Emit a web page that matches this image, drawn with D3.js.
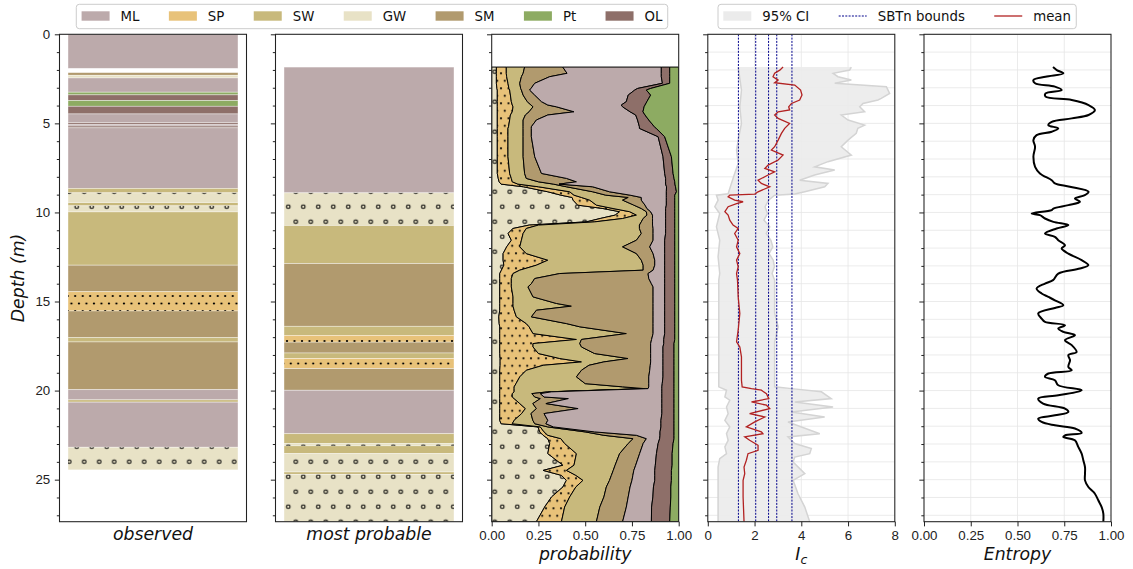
<!DOCTYPE html>
<html>
<head>
<meta charset="utf-8">
<script src="https://cdn.jsdelivr.net/npm/d3@7"></script>
<style>
  body { margin: 0; background: #fff; }
  svg { font-family: "DejaVu Sans", sans-serif; }
</style>
</head>
<body>
<svg id="chart" width="1133" height="569"></svg>
<script>
// soil classes and their colours
const classNames = ['ML', 'SP', 'SW', 'GW', 'SM', 'Pt', 'OL'];
const classColors = ['#bcaaab', '#e8c279', '#c8b97c', '#e8e2c6', '#b19a6e', '#8dab62', '#8e6f69'];

// observed log (depth in m)
const obsTop = [0, 2.15, 2.30, 2.45, 3.25, 3.40, 3.72, 4.04, 4.47, 4.96, 5.05, 5.15, 5.25, 8.65, 8.90, 9.45, 9.63, 9.97, 12.96, 14.45, 15.53, 17.03, 17.27, 19.95, 20.52, 20.65, 23.18];
const obsBottom = [1.91, 2.30, 2.45, 3.25, 3.40, 3.72, 4.04, 4.47, 4.96, 5.05, 5.15, 5.25, 8.65, 8.90, 9.45, 9.63, 9.97, 12.96, 14.45, 15.53, 17.03, 17.27, 19.95, 20.52, 20.65, 23.18, 24.45];
const obsClass = ['ML', 'SM', 'GW', 'ML', 'Pt', 'OL', 'Pt', 'OL', 'ML', 'OL', 'ML', 'OL', 'ML', 'SW', 'GW', 'SW', 'GW', 'SW', 'SM', 'SP', 'SM', 'SW', 'SM', 'ML', 'SW', 'ML', 'GW'];

// most probable log
const mpTop = [1.84, 8.90, 10.73, 12.87, 16.39, 16.90, 17.28, 17.89, 18.20, 18.77, 19.98, 22.42, 22.98, 23.10, 23.54, 24.57, 24.70];
const mpBottom = [8.90, 10.73, 12.87, 16.39, 16.90, 17.28, 17.89, 18.20, 18.77, 19.98, 22.42, 22.98, 23.10, 23.54, 24.57, 24.70, 27.36];
const mpClass = ['ML', 'GW', 'SW', 'SM', 'SW', 'SP', 'SM', 'SW', 'SP', 'SM', 'ML', 'SW', 'GW', 'SW', 'GW', 'SW', 'GW'];

// class probabilities, stacked GW | SP | SW | SM | ML | OL | Pt (right edge of each band)
const probDepth = [1.84, 2.19, 2.38, 2.75, 3.04, 3.13, 3.41, 3.78, 3.97, 4.07,
  4.35, 4.53, 4.81, 5.19, 5.28, 5.75, 6.87, 7.81, 8.09, 8.28,
  8.41, 8.56, 8.84, 9.03, 9.16, 9.31, 9.59, 9.78, 9.96, 10.15,
  10.34, 10.53, 10.71, 10.90, 11.18, 11.56, 11.93, 12.31, 12.68, 12.96,
  13.24, 13.43, 13.71, 14.00, 14.18, 14.74, 15.11, 15.26, 15.49, 15.86,
  16.24, 16.42, 16.80, 17.13, 17.36, 17.55, 17.92, 18.20, 18.39, 18.58,
  18.86, 19.23, 19.61, 19.79, 19.89, 20.07, 20.17, 20.36, 20.45, 20.73,
  21.01, 21.29, 21.67, 21.86, 22.04, 22.32, 22.51, 22.70, 22.97, 23.54,
  24.19, 24.48, 24.76, 25.04, 25.41, 25.97, 26.54, 27.36];
const edgeGW = [.025, .025, .025, .025, .028, .030, .030, .030, .030, .030,
  .030, .030, .030, .030, .030, .030, .030, .030, .035, .040,
  .050, .170, .300, .370, .430, .435, .460, .595, .684, .660,
  .580, .506, .200, .114, .087, .105, .080, .061, .061, .065,
  .052, .043, .043, .043, .043, .043, .043, .043, .043, .038,
  .040, .043, .043, .043, .043, .043, .043, .045, .045, .045,
  .043, .043, .043, .043, .043, .043, .043, .043, .043, .043,
  .043, .043, .043, .050, .248, .257, .275, .300, .310, .300,
  .381, .275, .373, .399, .381, .320, .283, .239];
const edgeSP = [.078, .078, .080, .087, .092, .096, .100, .105, .110, .114,
  .110, .100, .096, .090, .087, .087, .087, .096, .105, .110,
  .140, .250, .417, .440, .480, .524, .560, .649, .738, .774,
  .700, .550, .250, .185, .168, .159, .150, .185, .300, .239,
  .150, .114, .105, .105, .105, .114, .114, .114, .120, .132,
  .185, .200, .221, .453, .221, .221, .250, .364, .480, .275,
  .185, .150, .130, .120, .120, .120, .110, .110, .120, .150,
  .180, .160, .120, .110, .260, .280, .300, .370, .390, .453,
  .440, .400, .450, .488, .450, .417, .390, .373];
const edgeSW = [.176, .168, .159, .150, .155, .159, .168, .190, .210, .221,
  .200, .180, .168, .168, .168, .168, .168, .176, .185, .250,
  .330, .400, .540, .610, .730, .700, .760, .800, .827, .830,
  .810, .800, .790, .790, .800, .774, .700, .774, .800, .810,
  .810, .364, .230, .212, .194, .221, .346, .426, .239, .212,
  .400, .471, .720, .480, .471, .480, .550, .729, .600, .520,
  .480, .453, .500, .700, .818, .300, .215, .230, .260, .220,
  .239, .210, .220, .230, .300, .500, .600, .756, .730, .684,
  .660, .650, .640, .630, .613, .600, .578, .560];
const edgeSM = [.380, .403, .310, .230, .210, .203, .230, .266, .300, .346,
  .440, .300, .239, .212, .212, .212, .230, .266, .400, .453,
  .360, .540, .630, .740, .800, .800, .820, .830, .850, .860,
  .860, .860, .860, .863, .863, .863, .845, .863, .872, .872,
  .863, .836, .840, .854, .863, .863, .863, .863, .863, .863,
  .863, .863, .863, .855, .850, .850, .850, .850, .850, .848,
  .845, .840, .840, .840, .836, .320, .260, .280, .410, .290,
  .462, .280, .300, .290, .330, .550, .774, .827, .810, .791,
  .770, .760, .755, .750, .740, .730, .720, .700];
const edgeML = [.907, .907, .907, .913, .780, .765, .730, .720, .693, .700,
  .740, .770, .780, .790, .790, .890, .916, .925, .930, .930,
  .930, .935, .934, .934, .934, .934, .934, .930, .930, .930,
  .930, .930, .930, .930, .930, .925, .925, .925, .925, .925,
  .925, .925, .925, .925, .925, .925, .925, .925, .925, .925,
  .925, .925, .925, .920, .920, .916, .916, .916, .916, .916,
  .916, .916, .912, .910, .910, .910, .910, .910, .910, .910,
  .910, .910, .905, .905, .905, .900, .900, .898, .890, .881,
  .875, .872, .872, .872, .865, .862, .855, .854];
const edgeOL = [.952, .952, .952, .952, .850, .827, .850, .830, .820, .815,
  .809, .820, .840, .870, .880, .925, .961, .970, .975, .979,
  .980, .983, .988, .979, .979, .979, .979, .979, .979, .979,
  .979, .979, .979, .979, .979, .979, .979, .979, .979, .979,
  .979, .979, .979, .979, .979, .979, .979, .979, .979, .979,
  .979, .979, .979, .979, .975, .975, .975, .975, .975, .975,
  .975, .975, .975, .975, .975, .975, .975, .975, .975, .975,
  .975, .975, .975, .975, .975, .975, .975, .975, .970, .965,
  .965, .961, .961, .961, .958, .958, .955, .952];

// soil behaviour type index Ic
const icDepth = [1.84, 2.01, 2.19, 2.38, 2.57, 2.72, 2.85, 3.13, 3.41, 3.69, 3.88, 4.07, 4.25, 4.35, 4.53, 4.72, 5.00, 5.28, 5.56, 5.94,
  6.31, 6.50, 6.78, 7.06, 7.34, 7.53, 7.72, 7.90, 8.19, 8.37, 8.56, 8.84, 8.97, 9.03, 9.12, 9.31, 9.40, 9.50, 9.68, 9.96,
  10.15, 10.43, 10.71, 10.90, 11.18, 11.56, 11.93, 12.31, 12.68, 13.05, 13.43, 13.80, 14.74, 15.67, 16.61, 17.26, 17.55, 18.11, 19.42, 19.79,
  19.89, 19.98, 20.17, 20.45, 20.64, 20.82, 21.01, 21.29, 21.48, 21.76, 22.04, 22.32, 22.42, 22.60, 22.79, 23.07, 23.35, 23.54, 23.91, 24.29,
  24.66, 25.04, 25.97, 27.36];
const icMean = [3.22, 3.08, 2.86, 2.79, 3.01, 2.86, 3.72, 3.97, 4.03, 3.93, 3.58, 3.46, 3.50, 3.01, 2.86, 3.01, 3.50, 3.29, 3.15, 3.01,
  2.86, 2.72, 3.22, 3.01, 2.58, 2.44, 2.86, 2.58, 2.15, 2.29, 2.65, 2.15, 2.01, 0.94, 0.87, 1.15, 1.51, 1.23, 0.87, 0.73,
  0.87, 0.94, 1.08, 1.30, 1.15, 1.30, 1.23, 1.37, 1.23, 1.30, 1.23, 1.27, 1.30, 1.37, 1.30, 1.23, 1.37, 1.44, 1.44, 1.47,
  1.87, 2.29, 2.51, 2.61, 1.87, 2.51, 2.65, 1.79, 2.44, 2.01, 1.65, 2.29, 2.36, 1.58, 1.79, 2.15, 2.15, 1.72, 1.65, 1.55,
  1.58, 1.51, 1.51, 1.55];
const ciLowDepth = [1.84, 3.13, 4.07, 5.00, 5.94, 6.50, 7.25, 7.81, 8.37, 8.95, 9.03, 9.31, 9.68, 10.06, 10.81, 11.56, 12.49, 13.43, 13.80, 19.79,
  19.98, 20.36, 20.54, 20.92, 21.29, 21.67, 22.04, 22.42, 22.79, 23.16, 23.54, 23.82, 24.29, 27.36];
const ciLow = [1.30, 1.44, 1.37, 1.44, 1.30, 1.23, 1.30, 1.15, 1.01, 0.87, 0.37, 0.44, 0.30, 0.51, 0.37, 0.51, 0.44, 0.51, 0.47, 0.47,
  0.80, 0.73, 0.94, 0.80, 0.87, 0.73, 0.94, 0.80, 0.87, 0.73, 0.80, 0.51, 0.44, 0.44];
const ciHighDepth = [1.84, 2.01, 2.19, 2.38, 2.57, 2.75, 2.94, 3.13, 3.32, 3.60, 3.69, 3.88, 4.07, 4.35, 4.53, 4.81, 5.10, 5.28, 5.56, 5.94,
  6.31, 6.78, 7.15, 7.44, 7.62, 7.90, 8.19, 8.37, 8.56, 8.84, 8.97, 9.03, 9.31, 9.68, 10.06, 10.43, 10.81, 11.18, 11.56, 11.93,
  12.31, 12.68, 13.05, 13.43, 13.80, 15.67, 16.42, 17.26, 19.79, 19.89, 20.07, 20.45, 20.64, 20.92, 21.20, 21.48, 21.76, 22.42, 22.60, 22.97,
  23.25, 23.54, 23.73, 24.01, 24.66, 25.04, 25.79, 26.54, 27.36];
const ciHigh = [6.14, 6.07, 5.36, 5.57, 6.14, 5.43, 7.64, 7.71, 7.78, 7.42, 7.28, 6.64, 6.50, 6.71, 5.71, 6.00, 6.71, 6.42, 6.35, 6.00,
  5.71, 6.14, 5.14, 4.57, 5.43, 4.57, 3.93, 5.14, 5.00, 4.15, 3.72, 2.86, 2.60, 2.45, 2.55, 2.40, 2.65, 2.50, 2.70, 2.78,
  2.62, 2.80, 2.85, 2.75, 2.86, 2.86, 3.01, 2.86, 2.86, 3.58, 4.86, 5.28, 3.72, 5.36, 3.58, 5.00, 3.43, 4.79, 3.43, 3.72,
  4.43, 4.36, 3.72, 3.65, 4.15, 3.65, 3.86, 4.15, 4.36];
const sbtBounds = [1.31, 2.05, 2.60, 2.95, 3.60];

// entropy of the class probabilities
const entDepth = [1.84, 2.01, 2.19, 2.38, 2.57, 2.75, 2.94, 3.13, 3.32, 3.50, 3.69, 3.97, 4.25, 4.53, 4.72, 4.91, 5.10, 5.28, 5.47, 5.66,
  5.94, 6.31, 6.87, 7.44, 7.81, 8.19, 8.37, 8.56, 8.84, 9.03, 9.22, 9.40, 9.59, 9.78, 9.87, 10.06, 10.15, 10.34, 10.53, 10.71,
  10.90, 11.18, 11.37, 11.56, 11.84, 12.02, 12.31, 12.68, 12.96, 13.15, 13.43, 13.80, 13.99, 14.27, 14.55, 14.74, 14.93, 15.21, 15.36, 15.67,
  15.96, 16.14, 16.33, 16.52, 16.70, 16.89, 17.17, 17.45, 17.83, 18.01, 18.29, 18.67, 18.86, 19.04, 19.23, 19.42, 19.70, 19.98, 20.26, 20.45,
  20.73, 21.01, 21.20, 21.39, 21.57, 21.76, 21.95, 22.13, 22.38, 22.51, 22.60, 22.79, 23.16, 23.54, 23.91, 24.29, 24.66, 25.04, 25.41, 25.79,
  26.16, 26.54, 26.91, 27.36];
const entropy = [0.69, 0.71, 0.745, 0.65, 0.585, 0.594, 0.70, 0.736, 0.65, 0.65, 0.79, 0.88, 0.914, 0.88, 0.79, 0.683, 0.665, 0.718, 0.683, 0.602,
  0.585, 0.594, 0.585, 0.594, 0.62, 0.683, 0.70, 0.78, 0.88, 0.86, 0.807, 0.834, 0.772, 0.692, 0.683, 0.576, 0.62, 0.647, 0.692, 0.772,
  0.709, 0.647, 0.70, 0.718, 0.754, 0.736, 0.772, 0.843, 0.879, 0.834, 0.718, 0.69, 0.647, 0.602, 0.629, 0.665, 0.70, 0.745, 0.70, 0.611,
  0.629, 0.647, 0.754, 0.718, 0.745, 0.807, 0.754, 0.79, 0.816, 0.772, 0.781, 0.772, 0.79, 0.665, 0.647, 0.70, 0.718, 0.843, 0.718, 0.611,
  0.637, 0.754, 0.772, 0.70, 0.611, 0.629, 0.70, 0.807, 0.843, 0.754, 0.745, 0.807, 0.825, 0.843, 0.852, 0.861, 0.861, 0.861, 0.879, 0.914,
  0.932, 0.95, 0.959, 0.959];

// ---------------------------------------------------------------- layout
const svg = d3.select('#chart');
const defs = svg.append('defs');
const color = d3.scaleOrdinal().domain(classNames).range(classColors);

const plotTop = 34.3, plotBottom = 521.7, panelW = 187;
const lefts = [59.5, 275.5, 491.7, 707.8, 924];
const y = d3.scaleLinear().domain([0, 27.36]).range([plotTop, plotBottom]);

const xObs = d3.scaleLinear().domain([-0.05, 1.05]).range([lefts[0], lefts[0] + panelW]);
const xMp = d3.scaleLinear().domain([-0.05, 1.05]).range([lefts[1], lefts[1] + panelW]);
const xProb = d3.scaleLinear().domain([0, 1]).range([lefts[2], lefts[2] + panelW]);
const xIc = d3.scaleLinear().domain([0, 8]).range([lefts[3], lefts[3] + panelW]);
const xEnt = d3.scaleLinear().domain([0, 1]).range([lefts[4], lefts[4] + panelW]);

// hatch patterns: 'o' for GW, '.' for SP (matplotlib style)
function circlePattern(id, ox, oy) {
  const p = defs.append('pattern').attr('id', id).attr('patternUnits', 'userSpaceOnUse')
    .attr('x', ox).attr('y', oy).attr('width', 15).attr('height', 30);
  [[0, 0], [15, 0], [0, 30], [15, 30], [7.5, 15]].forEach(([cx, cy]) =>
    p.append('circle').attr('cx', cx).attr('cy', cy).attr('r', 1.8)
      .attr('fill', 'none').attr('stroke', '#000').attr('stroke-width', 1.1));
}
function dotPattern(id, ox, oy) {
  const p = defs.append('pattern').attr('id', id).attr('patternUnits', 'userSpaceOnUse')
    .attr('x', ox).attr('y', oy).attr('width', 7.5).attr('height', 15);
  [[0, 0], [7.5, 0], [0, 15], [7.5, 15], [3.75, 7.5]].forEach(([cx, cy]) =>
    p.append('circle').attr('cx', cx).attr('cy', cy).attr('r', 1.1).attr('fill', '#000'));
}
circlePattern('circ0', 1.7, 26.7); dotPattern('dot0', 0.2, 11);
circlePattern('circ1', 3.3, 26.7); dotPattern('dot1', 2, 11);
circlePattern('circ2', 7.3, 26.7); dotPattern('dot2', 6, 13.3);
const hatchOf = (cls, i) => cls === 'GW' ? `url(#circ${i})` : cls === 'SP' ? `url(#dot${i})` : null;

lefts.forEach((l, i) => {
  defs.append('clipPath').attr('id', 'clip' + i)
    .append('rect').attr('x', l).attr('y', plotTop).attr('width', panelW).attr('height', plotBottom - plotTop);
});

const panels = lefts.map((l, i) => svg.append('g').attr('clip-path', `url(#clip${i})`));

// ---------------------------------------------------------------- grids (Ic and entropy)
function grid(g, xScale, xTicks) {
  g.append('g').selectAll('line').data(xTicks).join('line')
    .attr('x1', d => xScale(d)).attr('x2', d => xScale(d)).attr('y1', plotTop).attr('y2', plotBottom)
    .attr('stroke', '#e6e6e6').attr('stroke-width', 0.8);
  g.append('g').selectAll('line').data(d3.range(0, 28)).join('line')
    .attr('x1', xScale.range()[0]).attr('x2', xScale.range()[1]).attr('y1', d => y(d)).attr('y2', d => y(d))
    .attr('stroke', '#e6e6e6').attr('stroke-width', 0.8);
}
grid(panels[3], xIc, [2, 4, 6]);
grid(panels[4], xEnt, [0.25, 0.5, 0.75]);

// ---------------------------------------------------------------- logs
function drawLog(g, xScale, tops, bottoms, classes, pi) {
  const idx = d3.range(tops.length);
  g.append('g').selectAll('rect').data(idx).join('rect')
    .attr('x', xScale(0)).attr('width', xScale(1) - xScale(0))
    .attr('y', i => y(tops[i])).attr('height', i => y(bottoms[i]) - y(tops[i]))
    .attr('fill', i => color(classes[i]))
    .attr('stroke', '#ffffff').attr('stroke-opacity', 0.55).attr('stroke-width', 0.7);
  g.append('g').selectAll('rect').data(idx.filter(i => hatchOf(classes[i], pi))).join('rect')
    .attr('x', xScale(0)).attr('width', xScale(1) - xScale(0))
    .attr('y', i => y(tops[i])).attr('height', i => y(bottoms[i]) - y(tops[i]))
    .attr('fill', i => hatchOf(classes[i], pi));
}
drawLog(panels[0], xObs, obsTop, obsBottom, obsClass, 0);
drawLog(panels[1], xMp, mpTop, mpBottom, mpClass, 1);

// ---------------------------------------------------------------- probability stack
const bandOrder = ['GW', 'SP', 'SW', 'SM', 'ML', 'OL', 'Pt'];
const edges = [probDepth.map(() => 0), edgeGW, edgeSP, edgeSW, edgeSM, edgeML, edgeOL, probDepth.map(() => 1)];
const probArea = (lo, hi) => d3.area()
  .y((d, i) => y(probDepth[i]))
  .x0((d, i) => xProb(lo[i])).x1((d, i) => xProb(hi[i]));
bandOrder.forEach((cls, k) => {
  const path = probArea(edges[k], edges[k + 1])(probDepth);
  panels[2].append('path').attr('d', path).attr('fill', color(cls));
  const h = hatchOf(cls, 2);
  if (h) panels[2].append('path').attr('d', path).attr('fill', h);
  panels[2].append('path').attr('d', path).attr('fill', 'none')
    .attr('stroke', '#000').attr('stroke-width', 1).attr('stroke-linejoin', 'round');
});

// ---------------------------------------------------------------- Ic
const ciPts = ciLowDepth.map((d, i) => [xIc(ciLow[i]), y(d)])
  .concat(ciHighDepth.map((d, i) => [xIc(ciHigh[i]), y(d)]).reverse());
panels[3].append('path').attr('d', d3.line()(ciPts) + 'Z').attr('fill', '#ebebeb').attr('fill-opacity', 0.9);
const ciEdge = d3.line();
panels[3].append('path').attr('d', ciEdge(ciLowDepth.map((d, i) => [xIc(ciLow[i]), y(d)])))
  .attr('fill', 'none').attr('stroke', '#d4d4d4').attr('stroke-width', 1.5);
panels[3].append('path').attr('d', ciEdge(ciHighDepth.map((d, i) => [xIc(ciHigh[i]), y(d)])))
  .attr('fill', 'none').attr('stroke', '#d4d4d4').attr('stroke-width', 1.5);
panels[3].append('g').selectAll('line').data(sbtBounds).join('line')
  .attr('x1', d => xIc(d)).attr('x2', d => xIc(d)).attr('y1', plotTop).attr('y2', plotBottom)
  .attr('stroke', '#00008b').attr('stroke-width', 1).attr('stroke-dasharray', '2,1.3');
panels[3].append('path')
  .attr('d', d3.line().x((d, i) => xIc(icMean[i])).y(d => y(d))(icDepth))
  .attr('fill', 'none').attr('stroke', '#b22222').attr('stroke-width', 1.3);

// ---------------------------------------------------------------- entropy
panels[4].append('path')
  .attr('d', d3.line().curve(d3.curveCatmullRom).x((d, i) => xEnt(entropy[i])).y(d => y(d))(entDepth))
  .attr('fill', 'none').attr('stroke', '#000').attr('stroke-width', 2).attr('stroke-linejoin', 'round');

// ---------------------------------------------------------------- axes
const tickLen = 4.67, minorLen = 2.67, pad = 4.67;
function styleAxis(sel) {
  sel.select('.domain').remove();
  sel.selectAll('line').attr('stroke', '#222').attr('stroke-width', 1);
  sel.selectAll('text').attr('fill', '#222').style('font-size', '13.3px');
}
lefts.forEach((l, i) => {
  const major = d3.axisLeft(y).tickValues([0, 5, 10, 15, 20, 25]).tickSize(tickLen).tickPadding(pad);
  if (i > 0) major.tickFormat('');
  svg.append('g').attr('transform', `translate(${l},0)`).call(major).call(styleAxis);
  svg.append('g').attr('transform', `translate(${l},0)`)
    .call(d3.axisLeft(y).tickValues(d3.range(0, 28).filter(v => v % 5 !== 0)).tickSize(minorLen).tickFormat(''))
    .call(styleAxis);
  svg.append('rect').attr('x', l).attr('y', plotTop).attr('width', panelW).attr('height', plotBottom - plotTop)
    .attr('fill', 'none').attr('stroke', '#222').attr('stroke-width', 1.07);
});
[[xProb, [0, 0.25, 0.5, 0.75, 1], d3.format('.2f')],
 [xIc, [0, 2, 4, 6, 8], d3.format('d')],
 [xEnt, [0, 0.25, 0.5, 0.75, 1], d3.format('.2f')]].forEach(([xs, tv, fmt]) => {
  svg.append('g').attr('transform', `translate(0,${plotBottom})`)
    .call(d3.axisBottom(xs).tickValues(tv).tickFormat(fmt).tickSize(tickLen).tickPadding(pad))
    .call(styleAxis);
});

// axis labels
const labelFont = '17.3px';
[['observed', lefts[0], 540], ['most probable', lefts[1], 540], ['probability', lefts[2], 560], ['Entropy', lefts[4], 560]]
  .forEach(([t, l, b]) => {
    svg.append('text').attr('x', l + panelW / 2).attr('y', b).attr('text-anchor', 'middle')
      .style('font-size', labelFont).style('font-style', 'italic').attr('fill', '#111').text(t);
  });
const icLab = svg.append('text').attr('x', lefts[3] + panelW / 2).attr('y', 560).attr('text-anchor', 'middle')
  .style('font-size', labelFont).style('font-style', 'italic').attr('fill', '#111');
icLab.append('tspan').text('I');
icLab.append('tspan').attr('dy', 3.5).style('font-size', '12.5px').text('c');
svg.append('text').attr('transform', `translate(24,278) rotate(-90)`)
  .attr('text-anchor', 'middle').style('font-size', labelFont).style('font-style', 'italic')
  .attr('fill', '#111').text('Depth (m)');

// ---------------------------------------------------------------- legends
const legFont = 13.3, handleLen = 28, handlePad = 11, colSpace = 29.4;
function textWidth(t) {
  const n = svg.append('text').style('font-size', legFont + 'px').text(t);
  const w = n.node().getComputedTextLength();
  n.remove();
  return w;
}
function legend(items, x0OrCenter, centered) {
  const widths = items.map(it => textWidth(it.label));
  const inner = d3.sum(widths) + items.length * (handleLen + handlePad) + (items.length - 1) * colSpace;
  const boxW = inner + 2 * 5.3;
  const bx = centered ? x0OrCenter - boxW / 2 : x0OrCenter;
  const g = svg.append('g');
  g.append('rect').attr('x', bx).attr('y', 4.3).attr('width', boxW).attr('height', 24.4).attr('rx', 3)
    .attr('fill', '#fff').attr('fill-opacity', 0.8).attr('stroke', '#cccccc').attr('stroke-width', 1);
  let x = bx + 5.3;
  items.forEach((it, k) => {
    if (it.kind === 'patch') {
      g.append('rect').attr('x', x).attr('y', 11.3).attr('width', handleLen).attr('height', 9.4).attr('fill', it.color);
    } else {
      g.append('line').attr('x1', x).attr('x2', x + handleLen).attr('y1', 16).attr('y2', 16)
        .attr('stroke', it.color).attr('stroke-width', it.width).attr('stroke-dasharray', it.dash || null);
    }
    g.append('text').attr('x', x + handleLen + handlePad).attr('y', 20.8)
      .style('font-size', legFont + 'px').attr('fill', '#111').text(it.label);
    x += handleLen + handlePad + widths[k] + colSpace;
  });
}
legend(classNames.map(c => ({ kind: 'patch', color: color(c), label: c })), 372, true);
legend([
  { kind: 'patch', color: '#ebebeb', label: '95% CI' },
  { kind: 'line', color: '#00008b', width: 1, dash: '2,1.3', label: 'SBTn bounds' },
  { kind: 'line', color: '#b22222', width: 1.3, label: 'mean' }
], 718, false);
</script>
</body>
</html>
